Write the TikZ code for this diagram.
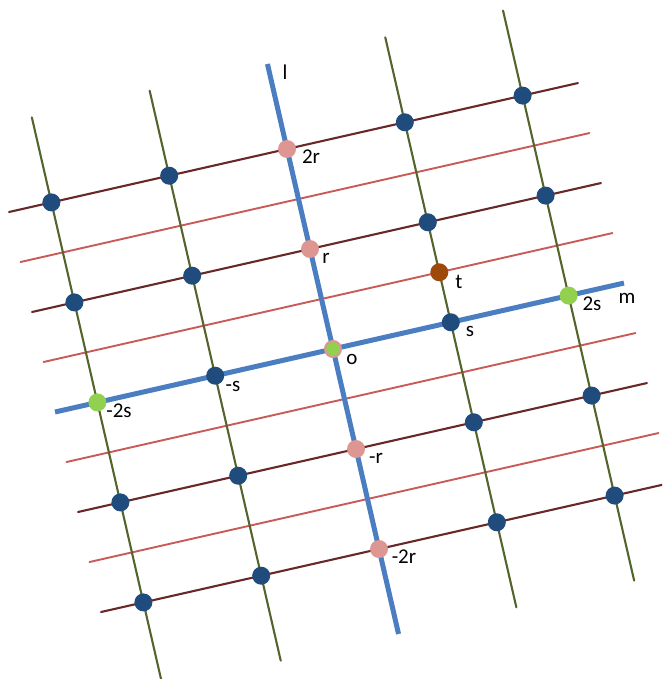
\documentclass[tikz,border=0pt]{standalone}
\usepackage{fontspec}
\setmainfont{Carlito}
\definecolor{bluel}{RGB}{74,126,193}
\definecolor{olivec}{RGB}{84,100,45}
\definecolor{darkr}{RGB}{104,40,40}
\definecolor{lightr}{RGB}{200,90,88}
\definecolor{dotblue}{RGB}{31,75,125}
\definecolor{dotpink}{RGB}{222,150,146}
\definecolor{dotgreen}{RGB}{146,208,80}
\definecolor{dotbrown}{RGB}{158,72,12}
\begin{document}
\begin{tikzpicture}[x=1pt,y=-1pt,line cap=round,
  oliveline/.style={draw=olivec,line width=2.1pt},
  darkline/.style={draw=darkr,line width=2.1pt},
  redline/.style={draw=lightr,line width=1.9pt},
  blueline/.style={draw=bluel,line width=5pt,line cap=butt},
  gdot/.style={circle,inner sep=0pt,minimum size=18pt},
  bdot/.style={gdot,fill=dotblue},
  pdot/.style={gdot,fill=dotpink},
  grdot/.style={gdot,fill=dotgreen},
  odot/.style={gdot,fill=dotgreen,draw=dotpink,line width=2pt,minimum size=16pt},
  tdot/.style={gdot,fill=dotbrown},
  lbl/.style={inner sep=0pt,font=\fontsize{21}{24}\selectfont}]
\useasboundingbox (0,0) rectangle (662,679);
\clip (0,0) rectangle (662,679);
\def\Ox{333}\def\Oy{349}
\def\sx{117.8}\def\sy{-26.7}
\def\rx{-23}\def\ry{-100}
% end points of the lines along s (index k = 2j)
\foreach \k in {-4,...,4}{
  \pgfmathsetmacro\j{\k/2}
  \coordinate (hL\k) at ({\Ox-2.36*\sx+\j*\rx},{\Oy-2.36*\sy+\j*\ry});
  \coordinate (hR\k) at ({\Ox+2.47*\sx+\j*\rx},{\Oy+2.47*\sy+\j*\ry});
}
% end points of the lines along r
\foreach \i in {-2,...,2}{
  \coordinate (vT\i) at ({\Ox+\i*\sx+2.85*\rx},{\Oy+\i*\sy+2.85*\ry});
  \coordinate (vB\i) at ({\Ox+\i*\sx-2.85*\rx},{\Oy+\i*\sy-2.85*\ry});
}
\foreach \k in {-3,-1,1,3} \draw[redline] (hL\k) -- (hR\k);
\foreach \k in {-4,-2,2,4} \draw[darkline] (hL\k) -- (hR\k);
\foreach \i in {-2,-1,1,2} \draw[oliveline] (vT\i) -- (vB\i);
\draw[blueline] (hL0) -- (hR0);
\draw[blueline] (vT0) -- (vB0);
% dots
\foreach \i in {-2,-1,1,2}
  \foreach \j in {-2,-1,1,2}
    \node[bdot] (p\i\j) at ({\Ox+\i*\sx+\j*\rx},{\Oy+\i*\sy+\j*\ry}) {};
\foreach \j in {-2,-1,1,2}
  \node[pdot] (p0\j) at ({\Ox+\j*\rx},{\Oy+\j*\ry}) {};
\foreach \i in {-2,2}
  \node[grdot] (p\i0) at ({\Ox+\i*\sx},{\Oy+\i*\sy}) {};
\foreach \i in {-1,1}
  \node[bdot] (p\i0) at ({\Ox+\i*\sx},{\Oy+\i*\sy}) {};
\node[odot] (p00) at (\Ox,\Oy) {};
\node[tdot] (pt) at ({\Ox+\sx+0.5*\rx},{\Oy+\sy+0.5*\ry}) {};
% labels
\node[lbl] (Ll) at (285,72) {l};
\node[lbl] (Lm) at (627,298) {m};
\node[lbl] (L2r) at (311,157) {2r};
\node[lbl] (Lr) at (326,258) {r};
\node[lbl] (Lo) at (352,359) {o};
\node[lbl] (Lmr) at (376,458) {-r};
\node[lbl] (Lm2r) at (404,557) {-2r};
\node[lbl] (Lt) at (459,282) {t};
\node[lbl] (Ls) at (470,331) {s};
\node[lbl] (L2s) at (592,304) {2s};
\node[lbl] (Lms) at (233,386) {-s};
\node[lbl] (Lm2s) at (119,411) {-2s};
\end{tikzpicture}
\end{document}
